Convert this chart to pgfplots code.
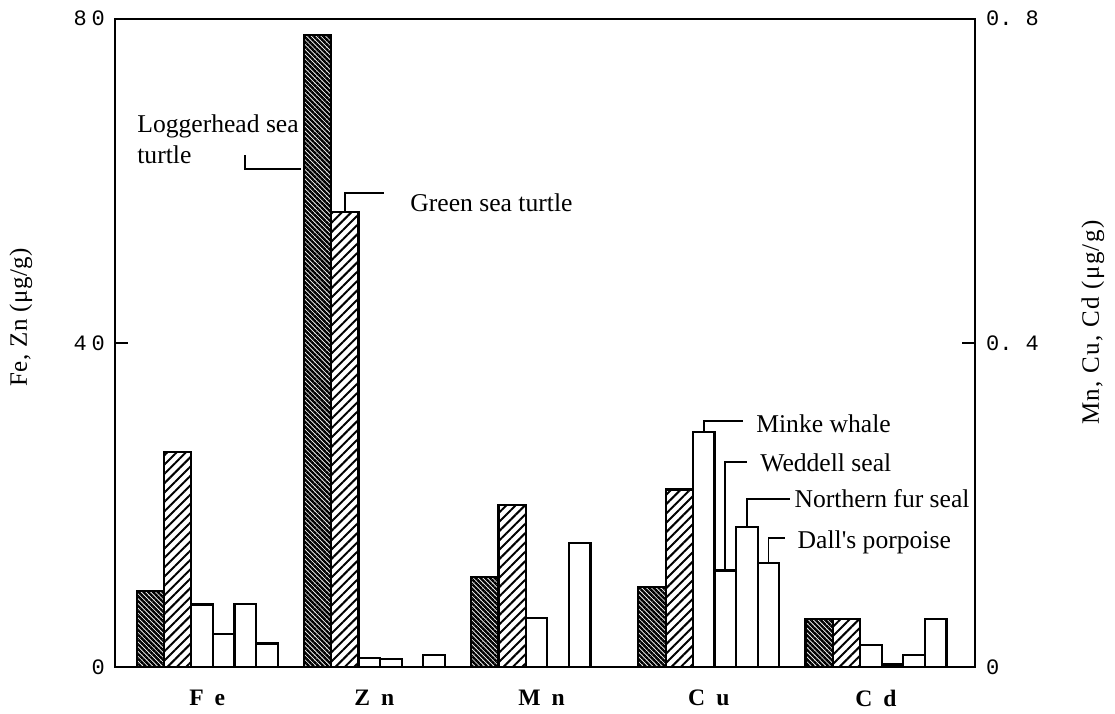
\documentclass[border=0pt]{standalone}
\usepackage{pgfplots}
\pgfplotsset{compat=1.18}
\usetikzlibrary{patterns.meta}
\usepackage{fontspec}
\setmainfont{Liberation Serif}
\newfontfamily\tickfont{Liberation Mono}
\newfontfamily\lablfont[LetterSpace=2]{Liberation Serif}
\newfontfamily\labrfont[LetterSpace=5.5]{Liberation Serif}
\newcommand{\annot}{\fontsize{12.8}{15.5}\selectfont}
\newcommand{\sq}{{\addfontfeature{Ligatures=TeXOff}'}}

% Groups: Fe=0, Zn=1, Mn=2, Cu=3, Cd=4.
% Bar widths and centre offsets within a group, in axis units.
\def\wT{0.1633}
\def\wW{0.1292}
\def\sLH{-0.3400}
\def\sGR{-0.1767}
\def\sMW{-0.0305}
\def\sWS{0.0987}
\def\sNF{0.2279}
\def\sDP{0.3571}

\tikzset{leader/.style={line width=0.85pt}}

\pgfplotsset{
  common/.style={
    width=430pt, height=324.25pt, scale only axis,
    xmin=-0.5514, xmax=4.592,
    tick align=inside, major tick length=6.5pt,
    tick style={line width=1pt, black},
    axis line style={line width=1pt},
    clip=false,
  },
  loggerbar/.style={ybar, bar width=\wT, bar shift=\sLH, draw=black, line width=1.1pt,
    pattern={Lines[angle=-45,distance=1.7pt,line width=1.2pt]}},
  greenbar/.style={ybar, bar width=\wT, bar shift=\sGR, draw=black, line width=1.1pt,
    pattern={Lines[angle=45,distance=3.3pt,line width=1pt]}},
  mammalbar/.style={ybar, bar width=\wW, bar shift=#1, draw=black, fill=white, line width=1.1pt},
}

% Fe, Zn (left scale)
\pgfplotstableread{
x y
0 9.4
1 78.0
}\feznLH
\pgfplotstableread{
x y
0 26.5
1 56.1
}\feznGR
\pgfplotstableread{
x y
0 7.7
1 1.15
}\feznMW
\pgfplotstableread{
x y
0 4.1
1 1.0
}\feznWS
\pgfplotstableread{
x y
0 7.8
}\feznNF
\pgfplotstableread{
x y
0 2.9
1 1.5
}\feznDP

% Mn, Cu, Cd (right scale)
\pgfplotstableread{
x y
2 0.111
3 0.099
4 0.059
}\mnLH
\pgfplotstableread{
x y
2 0.200
3 0.219
4 0.059
}\mnGR
\pgfplotstableread{
x y
2 0.060
3 0.290
4 0.027
}\mnMW
\pgfplotstableread{
x y
3 0.119
4 0.003
}\mnWS
\pgfplotstableread{
x y
2 0.153
3 0.173
4 0.015
}\mnNF
\pgfplotstableread{
x y
3 0.128
4 0.059
}\mnDP

\begin{document}
\begin{tikzpicture}
\path[use as bounding box] (-57.5pt,-23pt) rectangle (500pt,333.5pt);

\begin{axis}[common,
  ymin=0, ymax=80,
  ytick={0,40,80}, ytick pos=left,
  yticklabels={0,4\hspace{2.5pt}0,8\hspace{2.5pt}0},
  yticklabel style={font=\tickfont\fontsize{11}{12}\selectfont, xshift=-1.5pt},
  xtick={0,1,2,3,4},
  xticklabels={F\hspace{5.5pt}e,Z\hspace{5.5pt}n,M\hspace{5.5pt}n,C\hspace{5.5pt}u,C\hspace{5.5pt}d},
  xticklabel style={font=\bfseries\fontsize{11.8}{13}\selectfont, yshift=-8pt},
  xtick style={draw=none},
  ylabel={Fe, Zn (μg/g)},
  every axis y label/.style={at={(axis description cs:-0.1093,0.539)}, rotate=90, anchor=center,
    font=\lablfont\fontsize{12.5}{14}\selectfont},
]
\addplot[loggerbar] table {\feznLH};
\addplot[greenbar] table {\feznGR};
\addplot[mammalbar=\sMW] table {\feznMW};
\addplot[mammalbar=\sWS] table {\feznWS};
\addplot[mammalbar=\sNF] table {\feznNF};
\addplot[mammalbar=\sDP] table {\feznDP};

\node[anchor=north west, inner sep=0pt, font=\annot, align=left] at (axis cs:-0.420,68.22) {Loggerhead sea\\turtle};
\draw[leader] (axis cs:0.226,63.16) -- (axis cs:0.226,61.44) -- (axis cs:0.559,61.44);
\draw[leader] (axis cs:1+\sGR,56.1) |- (axis cs:1.057,58.47);
\node[anchor=base west, inner sep=0pt, font=\annot] at (axis cs:1.213,56.25) {Green sea turtle};
\end{axis}

\begin{axis}[common,
  ymin=0, ymax=0.8,
  hide x axis,
  axis y line*=right,
  tick align=inside,
  ytick={0,0.4,0.8},
  yticklabels={0,{0.\ 4},{0.\ 8}},
  yticklabel style={font=\tickfont\fontsize{11}{12}\selectfont, xshift=2pt},
  ylabel={Mn, Cu, Cd (μg/g)},
  every axis y label/.style={at={(axis description cs:1.137,0.531)}, rotate=90, anchor=center,
    font=\labrfont\fontsize{12.5}{14}\selectfont},
]
\addplot[loggerbar] table {\mnLH};
\addplot[greenbar] table {\mnGR};
\addplot[mammalbar=\sMW] table {\mnMW};
\addplot[mammalbar=\sWS] table {\mnWS};
\addplot[mammalbar=\sNF] table {\mnNF};
\addplot[mammalbar=\sDP] table {\mnDP};

\draw[leader] (axis cs:3+\sMW,0.290) |- (axis cs:3.206,0.3039);
\node[anchor=base west, inner sep=0pt, font=\annot] at (axis cs:3.282,0.2887) {Minke whale};
\draw[leader] (axis cs:3+\sWS,0.119) |- (axis cs:3.227,0.2525);
\node[anchor=base west, inner sep=0pt, font=\annot] at (axis cs:3.306,0.2409) {Weddell seal};
\draw[leader] (axis cs:3+\sNF,0.173) |- (axis cs:3.486,0.2069);
\node[anchor=base west, inner sep=0pt, font=\annot] at (axis cs:3.511,0.197) {Northern fur seal};
\draw[leader] (axis cs:3+\sDP,0.128) |- (axis cs:3.456,0.1588);
\node[anchor=base west, inner sep=0pt, font=\annot] at (axis cs:3.529,0.1456) {Dall\sq s porpoise};
\end{axis}
\end{tikzpicture}
\end{document}
